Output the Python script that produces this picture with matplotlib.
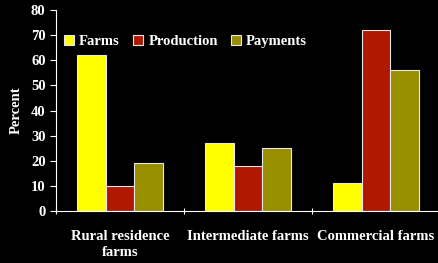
import matplotlib
matplotlib.use('Agg')
import matplotlib.pyplot as plt
import numpy as np

categories = ['Rural residence\nfarms', 'Intermediate farms', 'Commercial farms']
farms = [62, 27, 11]
production = [10, 18, 72]
payments = [19, 25, 56]

plt.rcParams['font.family'] = ['Liberation Serif', 'DejaVu Serif']
plt.rcParams['font.weight'] = 'bold'

fig = plt.figure(figsize=(4.38, 2.63), dpi=100, facecolor='black')
ax = fig.add_axes([56/438, 52/263, 384/438, 201/263], facecolor='black')

x = np.arange(len(categories))
w = 0.224
ax.bar(x - w, farms, w, color='#ffff00', edgecolor='#e8e8e8', linewidth=0.8, label='Farms')
ax.bar(x, production, w, color='#b01800', edgecolor='#e8e8e8', linewidth=0.8, label='Production')
ax.bar(x + w, payments, w, color='#978f00', edgecolor='#e8e8e8', linewidth=0.8, label='Payments')

ax.set_xlim(-0.5, 2.5)
ax.set_ylim(0, 80)
ax.set_yticks(range(0, 81, 10))
ax.set_xticks([-0.5, 0.5, 1.5])
ax.set_xticklabels([])
ax.set_xticks(x, minor=True)
ax.set_xticklabels(categories, minor=True, color='white', fontsize=10.5,
                   fontweight='bold', linespacing=1.25)
ax.tick_params(axis='x', which='minor', length=0, pad=14)
ax.tick_params(axis='x', which='major', length=4, colors='white', direction='inout')
ax.tick_params(axis='y', colors='white', labelsize=10.5, length=4)
for t in ax.get_yticklabels():
    t.set_fontweight('bold')

for s in ['top', 'right']:
    ax.spines[s].set_visible(False)
for s in ['left', 'bottom']:
    ax.spines[s].set_color('white')

ax.set_ylabel('Percent', color='white', fontsize=10.5, fontweight='bold', labelpad=6)

leg = ax.legend(loc='upper left', bbox_to_anchor=(0.005, 0.905), ncol=3, frameon=False,
                fontsize=10.5, handlelength=0.7, handleheight=0.7, handletextpad=0.35,
                columnspacing=0.9, borderaxespad=0)
for h in leg.legend_handles:
    h.set_edgecolor('#e8e8e8')
for t in leg.get_texts():
    t.set_color('white')
    t.set_fontweight('bold')

fig.savefig('out.png', dpi=100, facecolor='black')
